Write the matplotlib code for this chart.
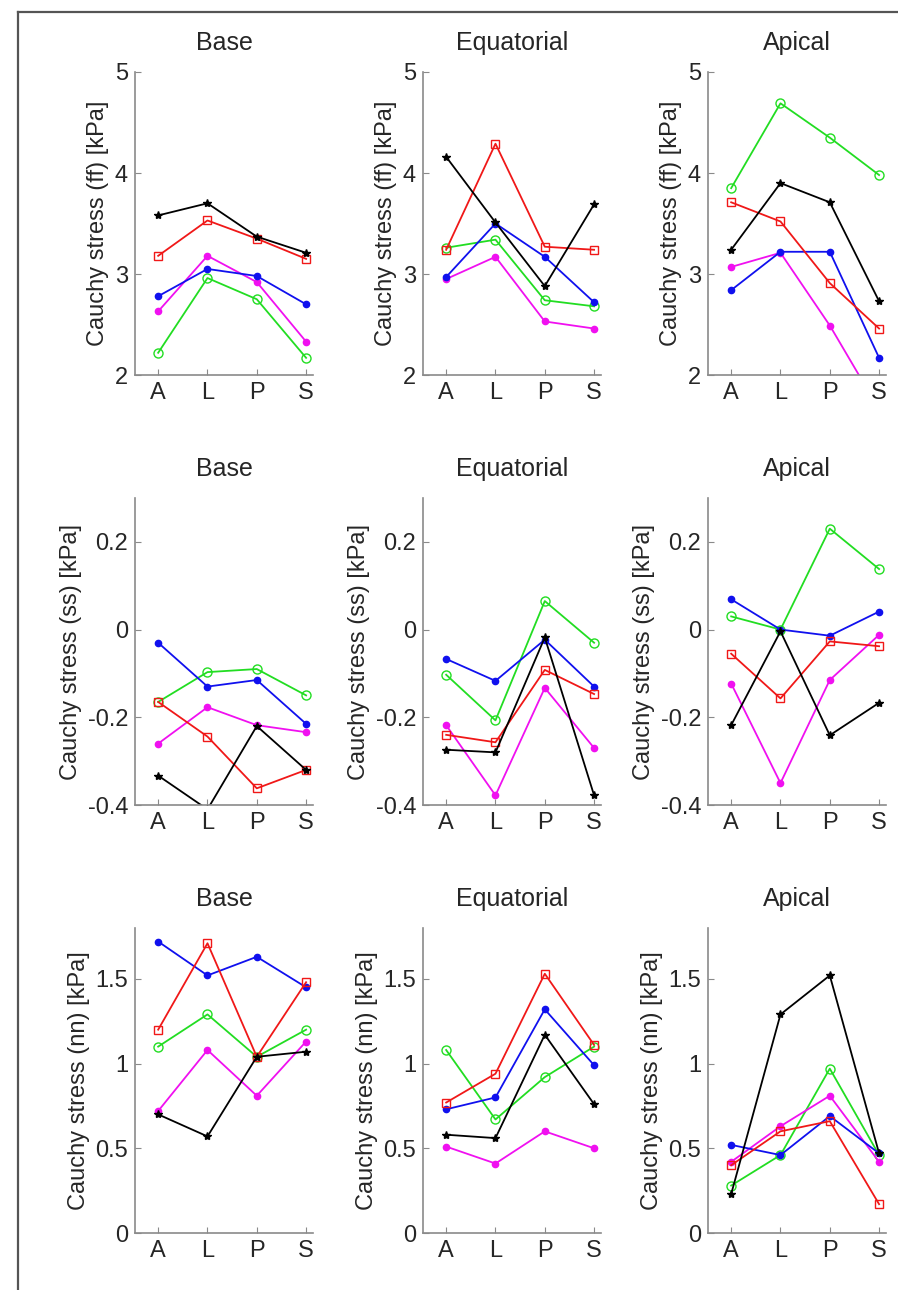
import matplotlib
matplotlib.use("Agg")
import matplotlib.pyplot as plt
from matplotlib.lines import Line2D

plt.rcParams['font.family'] = ['Liberation Sans', 'DejaVu Sans']

categories = ['A', 'L', 'P', 'S']
regions = ['Base', 'Equatorial', 'Apical']

# Row 1: fibre stress (ff)
ff_base = {'red': [3.18, 3.53, 3.35, 3.15], 'green': [2.22, 2.96, 2.75, 2.17],
           'blue': [2.78, 3.05, 2.98, 2.70], 'magenta': [2.63, 3.18, 2.92, 2.33],
           'black': [3.58, 3.70, 3.37, 3.21]}
ff_equa = {'red': [3.24, 4.29, 3.27, 3.24], 'green': [3.26, 3.34, 2.74, 2.68],
           'blue': [2.97, 3.50, 3.17, 2.72], 'magenta': [2.95, 3.17, 2.53, 2.46],
           'black': [4.16, 3.51, 2.88, 3.69]}
ff_apic = {'red': [3.71, 3.52, 2.91, 2.46], 'green': [3.85, 4.69, 4.35, 3.98],
           'blue': [2.84, 3.22, 3.22, 2.17], 'magenta': [3.07, 3.21, 2.49, 1.66],
           'black': [3.24, 3.90, 3.71, 2.73]}

# Row 2: sheet stress (ss)
ss_base = {'red': [-0.165, -0.244, -0.362, -0.32], 'green': [-0.165, -0.097, -0.09, -0.15],
           'blue': [-0.03, -0.13, -0.115, -0.215], 'magenta': [-0.26, -0.177, -0.218, -0.234],
           'black': [-0.333, -0.41, -0.22, -0.32]}
ss_equa = {'red': [-0.24, -0.257, -0.092, -0.147], 'green': [-0.103, -0.207, 0.065, -0.03],
           'blue': [-0.067, -0.117, -0.023, -0.13], 'magenta': [-0.218, -0.378, -0.133, -0.27],
           'black': [-0.274, -0.28, -0.018, -0.378]}
ss_apic = {'red': [-0.055, -0.157, -0.027, -0.038], 'green': [0.03, 0.0, 0.23, 0.138],
           'blue': [0.069, 0.0, -0.014, 0.041], 'magenta': [-0.123, -0.35, -0.115, -0.012],
           'black': [-0.218, -0.004, -0.241, -0.167]}

# Row 3: normal stress (nn)
nn_base = {'red': [1.20, 1.71, 1.04, 1.48], 'green': [1.10, 1.29, 1.04, 1.20],
           'blue': [1.72, 1.52, 1.63, 1.45], 'magenta': [0.72, 1.08, 0.81, 1.13],
           'black': [0.70, 0.57, 1.04, 1.07]}
nn_equa = {'red': [0.77, 0.94, 1.53, 1.11], 'green': [1.08, 0.67, 0.92, 1.10],
           'blue': [0.73, 0.80, 1.32, 0.99], 'magenta': [0.51, 0.41, 0.60, 0.50],
           'black': [0.58, 0.56, 1.17, 0.76]}
nn_apic = {'red': [0.40, 0.60, 0.66, 0.17], 'green': [0.28, 0.46, 0.97, 0.46],
           'blue': [0.52, 0.46, 0.69, 0.47], 'magenta': [0.42, 0.63, 0.81, 0.42],
           'black': [0.23, 1.29, 1.52, 0.47]}

ylabels = ['Cauchy stress (ff) [kPa]', 'Cauchy stress (ss) [kPa]', 'Cauchy stress (nn) [kPa]']
ylims = [(2, 5), (-0.4, 0.3), (0, 1.8)]
yticks = [[2, 3, 4, 5], [-0.4, -0.2, 0, 0.2], [0, 0.5, 1, 1.5]]
yticklabels = [['2', '3', '4', '5'], ['-0.4', '-0.2', '0', '0.2'], ['0', '0.5', '1', '1.5']]

panels = [[ff_base, ff_equa, ff_apic], [ss_base, ss_equa, ss_apic], [nn_base, nn_equa, nn_apic]]

styles = {
    'red': dict(color='#f01818', marker='s', mfc='none', ms=6, mew=1.0),
    'green': dict(color='#22dd22', marker='o', mfc='none', ms=6.5, mew=1.0),
    'blue': dict(color='#1010ee', marker='.', ms=9),
    'magenta': dict(color='#f010f0', marker='.', ms=9),
    'black': dict(color='#000000', marker='*', ms=6),
}
order = ['green', 'magenta', 'blue', 'red', 'black']

W, H = 898, 1290
fig = plt.figure(figsize=(W / 100, H / 100), dpi=100)

row_tb = [(72, 375), (498, 805), (928, 1233)]
col_left = [135, 423, 708]
ax_w = 178

x = list(range(1, len(categories) + 1))
for r in range(3):
    top, bot = row_tb[r]
    for c in range(3):
        ax = fig.add_axes([col_left[c] / W, 1 - bot / H, ax_w / W, (bot - top) / H])
        data = panels[r][c]
        for name in order:
            ax.plot(x, data[name], lw=1.3, **styles[name])
        ax.set_xlim(0.53, 4.14)
        ax.set_ylim(*ylims[r])
        ax.set_xticks(x)
        ax.set_xticklabels(categories)
        ax.set_yticks(yticks[r])
        ax.set_yticklabels(yticklabels[r])
        ax.spines['top'].set_visible(False)
        ax.spines['right'].set_visible(False)
        for s in ('left', 'bottom'):
            ax.spines[s].set_color('#8a8a8a')
            ax.spines[s].set_linewidth(1.2)
        ax.tick_params(direction='in', length=4, width=0.8, color='#8a8a8a',
                       labelsize=17, labelcolor='#262626', pad=5)
        ax.set_ylabel(ylabels[r], fontsize=17, color='#262626', labelpad=4)
        ax.set_title(regions[c], fontsize=18, color='#262626', pad=16)

# outer frame (cropped on right and bottom)
fig.add_artist(Line2D([18 / W, 18 / W], [0, 1 - 12 / H], transform=fig.transFigure,
                      color='#555555', lw=1.6))
fig.add_artist(Line2D([18 / W, 1], [1 - 12 / H, 1 - 12 / H], transform=fig.transFigure,
                      color='#555555', lw=1.6))

fig.savefig('out.png', dpi=100)
